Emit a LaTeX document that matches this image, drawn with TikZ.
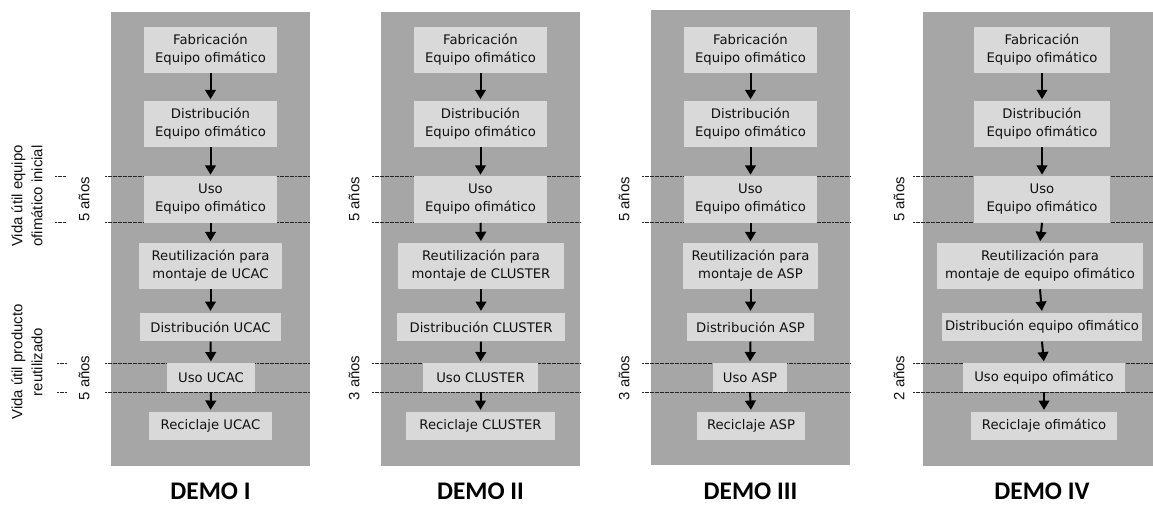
\documentclass[tikz,border=0pt]{standalone}
\usepackage{fontspec}
\setmainfont{DejaVu Sans}
\newfontfamily\lblfont{Liberation Sans}
\newfontfamily\demofont{Carlito}
\usetikzlibrary{arrows.meta}

\definecolor{panelgray}{HTML}{A6A6A6}
\definecolor{boxgray}{HTML}{D9D9D9}
\definecolor{inkgray}{HTML}{111111}

\begin{document}
\begin{tikzpicture}[x=0.75pt,y=-0.75pt,
  panel/.style={fill=panelgray, draw=none},
  stage/.style={fill=boxgray, draw=none, text=inkgray, align=center,
    inner xsep=1pt, inner ysep=0pt,
    font=\fontsize{9.9pt}{13.5pt}\selectfont, minimum width=#1*0.75pt},
  one/.style={minimum height=21.4pt},
  two/.style={minimum height=34.5pt},
  flow/.style={-{Triangle[width=8pt,length=7pt]}, line width=1.5pt, black, shorten >=1.2pt},
  bound/.style={line width=0.75pt, black!85, dash pattern=on 1.5pt off 0.4pt},
  years/.style={rotate=90, text=inkgray, font=\lblfont\fontsize{11.2pt}{13pt}\selectfont},
  life/.style={rotate=90, align=center, text=inkgray, font=\lblfont\fontsize{11.2pt}{15pt}\selectfont},
  demo/.style={text=black, inner sep=0pt, font=\demofont\bfseries\fontsize{19pt}{20pt}\selectfont}
]
\useasboundingbox (0,0) rectangle (1153,506);

% grey panels
\fill[panel] (111,12) rectangle (310,466);
\fill[panel] (381,12) rectangle (580,466);
\fill[panel] (651,10) rectangle (850,465);
\fill[panel] (923,12) rectangle (1153,466);

% life-span boundaries
\foreach \y in {176.5,222,363,392.5}{
  \draw[bound] (105,\y) -- (310,\y);
  \draw[bound] (372,\y) -- (580,\y);
  \draw[bound] (642,\y) -- (850,\y);
  \draw[bound] (913,\y) -- (1153,\y);
}
\draw[bound] (55,176.5) -- (66,176.5);
\draw[bound] (55,222) -- (66,222);
\draw[bound] (57,363) -- (67,363);
\draw[bound] (57,392.5) -- (67,392.5);

% side captions
\node[life] (vidaA) at (27,196) {Vida útil equipo\\ofimático inicial};
\node[life] (vidaB) at (27,362) {Vida útil producto\\reutilizado};

\node[years] (yA1) at (84,199.5) {5 años};
\node[years] (yB1) at (84,378) {5 años};
\node[years] (yA2) at (354,199.5) {5 años};
\node[years] (yB2) at (354,378) {3 años};
\node[years] (yA3) at (624,199.5) {5 años};
\node[years] (yB3) at (624,378) {3 años};
\node[years] (yA4) at (899,199.5) {5 años};
\node[years] (yB4) at (899,378) {2 años};

% DEMO I
\node[stage=133,two] (f1) at (210.5,50) {Fabricación\\Equipo ofimático};
\node[stage=133,two] (d1) at (210.5,124) {Distribución\\Equipo ofimático};
\node[stage=133,two] (u1) at (210.5,199.5) {Uso\\Equipo ofimático};
\node[stage=143,two] (r1) at (210.5,266) {Reutilización para\\montaje de UCAC};
\node[stage=141,one] (dx1) at (210.5,327) {Distribución UCAC};
\node[stage=88,one] (ux1) at (211,377.5) {Uso UCAC};
\node[stage=123,one] (c1) at (210.5,426) {Reciclaje UCAC};
\node[demo] (t1) at (210.5,491) {DEMO I};

% DEMO II
\node[stage=133,two] (f2) at (480.5,50) {Fabricación\\Equipo ofimático};
\node[stage=133,two] (d2) at (480.5,124) {Distribución\\Equipo ofimático};
\node[stage=133,two] (u2) at (480.5,199.5) {Uso\\Equipo ofimático};
\node[stage=166,two] (r2) at (481,266) {Reutilización para\\montaje de CLUSTER};
\node[stage=168,one] (dx2) at (481,327) {Distribución CLUSTER};
\node[stage=115,one] (ux2) at (480.5,377.5) {Uso CLUSTER};
\node[stage=149,one] (c2) at (480.5,426) {Reciclaje CLUSTER};
\node[demo] (t2) at (480.5,491) {DEMO II};

% DEMO III
\node[stage=133,two] (f3) at (750.5,50) {Fabricación\\Equipo ofimático};
\node[stage=133,two] (d3) at (750.5,124) {Distribución\\Equipo ofimático};
\node[stage=133,two] (u3) at (750.5,199.5) {Uso\\Equipo ofimático};
\node[stage=135,two] (r3) at (750.5,266) {Reutilización para\\montaje de ASP};
\node[stage=127,one] (dx3) at (750.5,327) {Distribución ASP};
\node[stage=74,one] (ux3) at (750,377.5) {Uso ASP};
\node[stage=108,one] (c3) at (751,426) {Reciclaje ASP};
\node[demo] (t3) at (750.5,491) {DEMO III};

% DEMO IV
\node[stage=136,two] (f4) at (1042,50) {Fabricación\\Equipo ofimático};
\node[stage=136,two] (d4) at (1042,124) {Distribución\\Equipo ofimático};
\node[stage=136,two] (u4) at (1042,199.5) {Uso\\Equipo ofimático};
\node[stage=206,two] (r4) at (1040,266) {Reutilización para\\montaje de equipo ofimático};
\node[stage=200,one] (dx4) at (1042,327) {Distribución equipo ofimático};
\node[stage=162,one] (ux4) at (1044,377.5) {Uso equipo ofimático};
\node[stage=146,one] (c4) at (1044,426) {Reciclaje ofimático};
\node[demo] (t4) at (1042,491) {DEMO IV};

% process arrows
\foreach \i in {1,2,3,4}{
  \draw[flow] (f\i.south) -- (d\i.north);
  \draw[flow] (d\i.south) -- (u\i.north);
  \draw[flow] (u\i.south) -- (r\i.north);
  \draw[flow] (r\i.south) -- (dx\i.north);
  \draw[flow] (dx\i.south) -- (ux\i.north);
  \draw[flow] (ux\i.south) -- (c\i.north);
}
\end{tikzpicture}
\end{document}
